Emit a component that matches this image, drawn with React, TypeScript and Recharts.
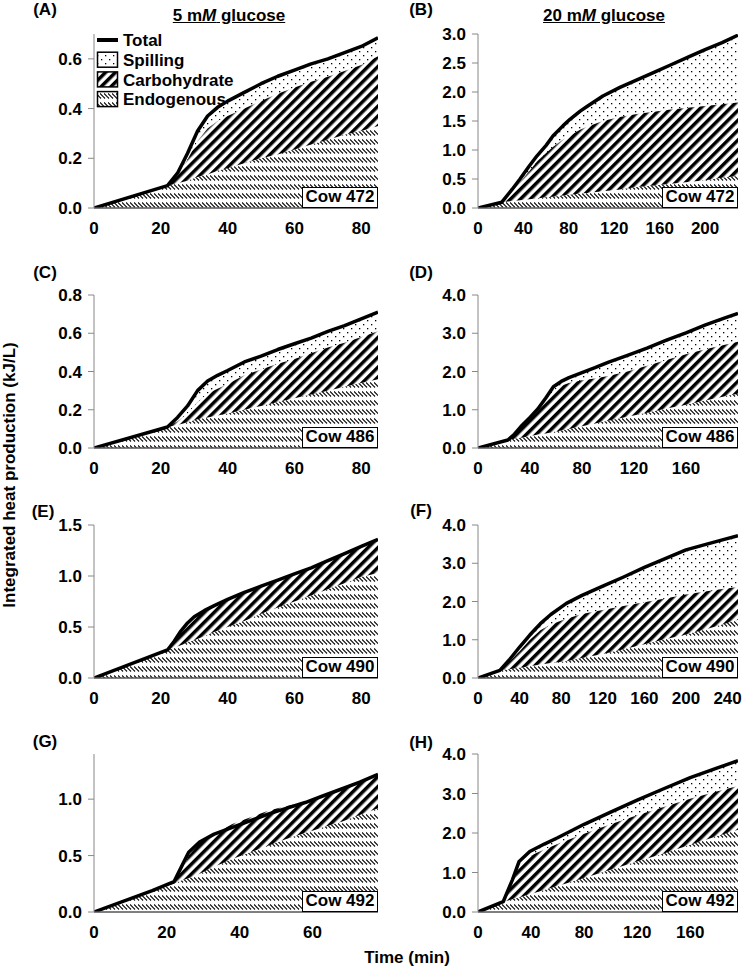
import React from 'react';
import { ComposedChart, Area, Line, XAxis, YAxis } from 'recharts';

const FONT = '"Liberation Sans", Arial, Helvetica, sans-serif';

// legend names (bottom of stack is Endogenous)
const seriesNames = ['Total', 'Spilling', 'Carbohydrate', 'Endogenous'];
const panelLetters = ['(A)', '(B)', '(C)', '(D)', '(E)', '(F)', '(G)', '(H)'];
const cowLabels = ['Cow 472', 'Cow 472', 'Cow 486', 'Cow 486', 'Cow 490', 'Cow 490', 'Cow 492', 'Cow 492'];

// (A) cow 472, 5 mM
const timeA = [0, 22, 25, 28, 31, 34, 37, 40, 45, 50, 55, 60, 65, 70, 75, 80, 85];
const totalA = [0, 0.09, 0.14, 0.22, 0.31, 0.37, 0.405, 0.43, 0.465, 0.5, 0.53, 0.555, 0.58, 0.6, 0.625, 0.65, 0.685];
const endoA = [0, 0.09, 0.1, 0.11, 0.125, 0.135, 0.15, 0.16, 0.18, 0.2, 0.215, 0.235, 0.255, 0.275, 0.295, 0.31, 0.33];
const carbA = [0, 0, 0.03, 0.085, 0.145, 0.185, 0.2, 0.21, 0.22, 0.23, 0.245, 0.25, 0.253, 0.253, 0.256, 0.265, 0.28];
const spillA = [0, 0, 0.01, 0.025, 0.04, 0.05, 0.055, 0.06, 0.065, 0.07, 0.07, 0.07, 0.072, 0.072, 0.074, 0.075, 0.075];

// (B) cow 472, 20 mM
const timeB = [0, 21, 30, 37, 45, 52, 60, 66, 75, 81, 90, 96, 110, 125, 140, 155, 170, 185, 200, 215, 229];
const totalB = [0, 0.1, 0.32, 0.5, 0.72, 0.9, 1.08, 1.24, 1.42, 1.53, 1.67, 1.75, 1.93, 2.08, 2.21, 2.34, 2.47, 2.6, 2.73, 2.85, 2.98];
const endoB = [0, 0.1, 0.12, 0.135, 0.15, 0.165, 0.185, 0.195, 0.215, 0.23, 0.25, 0.26, 0.29, 0.32, 0.36, 0.39, 0.42, 0.45, 0.48, 0.52, 0.55];
const carbB = [0, 0, 0.18, 0.315, 0.48, 0.635, 0.765, 0.855, 0.965, 1.02, 1.1, 1.14, 1.21, 1.25, 1.26, 1.27, 1.28, 1.28, 1.28, 1.27, 1.27];
const spillB = [0, 0, 0.02, 0.05, 0.09, 0.1, 0.13, 0.19, 0.24, 0.28, 0.32, 0.35, 0.43, 0.51, 0.59, 0.68, 0.77, 0.87, 0.97, 1.06, 1.16];

// (C) cow 486, 5 mM
const timeC = [0, 22, 25, 28, 31, 34, 37, 40, 45, 50, 55, 60, 65, 70, 75, 80, 85];
const totalC = [0, 0.11, 0.16, 0.22, 0.3, 0.35, 0.38, 0.405, 0.45, 0.48, 0.515, 0.545, 0.575, 0.61, 0.64, 0.675, 0.71];
const endoC = [0, 0.11, 0.12, 0.135, 0.15, 0.16, 0.17, 0.18, 0.2, 0.22, 0.24, 0.26, 0.28, 0.3, 0.32, 0.34, 0.36];
const carbC = [0, 0, 0.02, 0.045, 0.09, 0.125, 0.14, 0.155, 0.18, 0.19, 0.2, 0.205, 0.215, 0.225, 0.23, 0.24, 0.25];
const spillC = [0, 0, 0.02, 0.04, 0.06, 0.065, 0.07, 0.07, 0.07, 0.07, 0.075, 0.08, 0.08, 0.085, 0.09, 0.095, 0.1];

// (D) cow 486, 20 mM
const timeD = [0, 23, 28, 33, 40, 46, 52, 58, 64, 70, 80, 90, 100, 115, 130, 145, 160, 175, 190, 200];
const totalD = [0, 0.21, 0.36, 0.56, 0.8, 1.02, 1.3, 1.6, 1.74, 1.84, 1.97, 2.1, 2.24, 2.42, 2.61, 2.82, 3.01, 3.22, 3.4, 3.52];
const endoD = [0, 0.21, 0.24, 0.27, 0.31, 0.35, 0.38, 0.42, 0.46, 0.5, 0.57, 0.64, 0.71, 0.82, 0.92, 1.03, 1.13, 1.24, 1.35, 1.42];
const carbD = [0, 0, 0.09, 0.25, 0.45, 0.62, 0.86, 1.08, 1.17, 1.2, 1.2, 1.18, 1.17, 1.18, 1.23, 1.27, 1.32, 1.34, 1.35, 1.36];
const spillD = [0, 0, 0.03, 0.04, 0.04, 0.05, 0.06, 0.1, 0.11, 0.14, 0.2, 0.28, 0.36, 0.42, 0.46, 0.52, 0.56, 0.64, 0.7, 0.74];

// (E) cow 490, 5 mM
const timeE = [0, 22, 24, 26, 28, 30, 33, 36, 40, 45, 50, 55, 60, 65, 70, 75, 80, 85];
const totalE = [0, 0.275, 0.36, 0.46, 0.54, 0.6, 0.66, 0.71, 0.77, 0.84, 0.9, 0.96, 1.02, 1.08, 1.15, 1.22, 1.29, 1.36];
const endoE = [0, 0.275, 0.3, 0.32, 0.35, 0.37, 0.41, 0.45, 0.5, 0.56, 0.63, 0.69, 0.75, 0.81, 0.87, 0.93, 0.99, 1.03];
const carbE = [0, 0, 0.06, 0.13, 0.18, 0.22, 0.24, 0.25, 0.26, 0.27, 0.26, 0.26, 0.26, 0.26, 0.27, 0.28, 0.29, 0.32];
const spillE = [0, 0, 0, 0.01, 0.01, 0.01, 0.01, 0.01, 0.01, 0.01, 0.01, 0.01, 0.01, 0.01, 0.01, 0.01, 0.01, 0.01];

// (F) cow 490, 20 mM
const timeF = [0, 21, 30, 40, 50, 60, 70, 85, 100, 120, 140, 160, 180, 200, 220, 235, 250];
const totalF = [0, 0.2, 0.47, 0.81, 1.13, 1.42, 1.66, 1.95, 2.16, 2.4, 2.64, 2.89, 3.12, 3.35, 3.5, 3.61, 3.72];
const endoF = [0, 0.2, 0.23, 0.27, 0.31, 0.35, 0.39, 0.44, 0.52, 0.63, 0.75, 0.88, 1.01, 1.14, 1.28, 1.4, 1.52];
const carbF = [0, 0, 0.19, 0.43, 0.69, 0.9, 1.01, 1.11, 1.15, 1.15, 1.13, 1.1, 1.07, 1.04, 0.99, 0.93, 0.86];
const spillF = [0, 0, 0.05, 0.11, 0.13, 0.17, 0.26, 0.4, 0.49, 0.62, 0.76, 0.91, 1.04, 1.17, 1.23, 1.28, 1.34];

// (G) cow 492, 5 mM
const timeG = [0, 16, 22, 24, 26, 29, 33, 38, 43, 48, 53, 58, 63, 68, 73, 78];
const totalG = [0, 0.19, 0.27, 0.4, 0.53, 0.62, 0.69, 0.75, 0.81, 0.87, 0.92, 0.97, 1.03, 1.09, 1.15, 1.22];
const endoG = [0, 0.19, 0.25, 0.28, 0.3, 0.34, 0.4, 0.47, 0.53, 0.59, 0.65, 0.7, 0.75, 0.8, 0.86, 0.92];
const carbG = [0, 0, 0.02, 0.08, 0.2, 0.27, 0.29, 0.31, 0.31, 0.31, 0.29, 0.28, 0.28, 0.29, 0.29, 0.3];
const spillG = [0, 0, 0, 0, 0, 0, 0, 0, 0, 0, 0, 0, 0, 0, 0, 0];

// (H) cow 492, 20 mM
const timeH = [0, 19, 26, 31, 39, 50, 60, 80, 100, 120, 140, 160, 180, 196];
const totalH = [0, 0.26, 0.82, 1.28, 1.53, 1.72, 1.88, 2.22, 2.53, 2.83, 3.12, 3.4, 3.64, 3.83];
const endoH = [0, 0.26, 0.32, 0.37, 0.45, 0.56, 0.66, 0.86, 1.07, 1.28, 1.48, 1.7, 1.92, 2.08];
const carbH = [0, 0, 0.43, 0.81, 0.97, 1.02, 1.06, 1.12, 1.15, 1.17, 1.18, 1.17, 1.13, 1.11];
const spillH = [0, 0, 0.07, 0.1, 0.11, 0.14, 0.16, 0.24, 0.31, 0.38, 0.46, 0.53, 0.59, 0.64];

// axis ticks
const xTicks5 = [0, 20, 40, 60, 80];
const xTicksG = [0, 20, 40, 60];
const xTicksB = [0, 40, 80, 120, 160, 200];
const xTicksDH = [0, 40, 80, 120, 160];
const xTicksF = [0, 40, 80, 120, 160, 200, 240];
const yTicksA = [0, 0.2, 0.4, 0.6];
const yTicksB = [0, 0.5, 1, 1.5, 2, 2.5, 3];
const yTicksC = [0, 0.2, 0.4, 0.6, 0.8];
const yTicks4 = [0, 1, 2, 3, 4];
const yTicksE = [0, 0.5, 1, 1.5];
const yTicksG = [0, 0.5, 1];

type Row = { t: number; endo: number; carb: number; spill: number; total: number };

const rows = (t: number[], e: number[], c: number[], s: number[], tot: number[]): Row[] =>
  t.map((v, i) => ({ t: v, endo: e[i], carb: c[i], spill: s[i], total: tot[i] }));

const YW = 60;
const MT = 12;
const MR = 4;
const XH = 34;

const tickStyle = { fill: '#000', fontSize: 17, fontWeight: 700, fontFamily: FONT };

function Patterns({ id }: { id: string }) {
  return (
    <defs>
      <pattern id={`endo-${id}`} patternUnits="userSpaceOnUse" width={4} height={9}>
        <path d="M0,0.5 L5,5.5 M-4,0.5 L1,5.5" stroke="#000" strokeWidth={1.2} fill="none" />
      </pattern>
      <pattern id={`carb-${id}`} patternUnits="userSpaceOnUse" width={7} height={7} patternTransform="rotate(45)">
        <rect x={0} y={0} width={3.5} height={7} fill="#000" />
      </pattern>
      <pattern id={`spill-${id}`} patternUnits="userSpaceOnUse" width={8} height={8}>
        <rect x={1} y={1} width={1.3} height={1.3} fill="#000" />
        <rect x={5} y={5} width={1.3} height={1.3} fill="#000" />
      </pattern>
    </defs>
  );
}

type PanelProps = {
  id: string;
  data: Row[];
  left: number;
  top: number;
  width: number;
  height: number;
  xMax: number;
  xTicks: number[];
  yMax: number;
  yTicks: number[];
  cow: string;
};

function Panel(p: PanelProps) {
  const w = YW + p.width + MR;
  const h = MT + p.height + XH;
  return (
    <div style={{ position: 'absolute', left: p.left - YW, top: p.top - MT, width: w, height: h }}>
      <ComposedChart width={w} height={h} data={p.data} margin={{ top: MT, right: MR, bottom: 0, left: 0 }}>
        <Patterns id={p.id} />
        <XAxis
          type="number"
          dataKey="t"
          domain={[0, p.xMax]}
          ticks={p.xTicks}
          interval={0}
          allowDataOverflow
          height={XH}
          tickLine={false}
          tickSize={6}
          tickMargin={8}
          axisLine={{ stroke: '#555', strokeWidth: 1.5 }}
          tick={tickStyle}
        />
        <YAxis
          type="number"
          domain={[0, p.yMax]}
          ticks={p.yTicks}
          interval={0}
          allowDataOverflow
          width={YW}
          tickSize={6}
          tickMargin={6}
          tickFormatter={(v: number) => v.toFixed(1)}
          axisLine={{ stroke: '#888' }}
          tickLine={{ stroke: '#888' }}
          tick={tickStyle}
        />
        <Area type="linear" dataKey="endo" stackId="s" stroke="none" fill={`url(#endo-${p.id})`} fillOpacity={1} isAnimationActive={false} />
        <Area type="linear" dataKey="carb" stackId="s" stroke="none" fill={`url(#carb-${p.id})`} fillOpacity={1} isAnimationActive={false} />
        <Area type="linear" dataKey="spill" stackId="s" stroke="none" fill={`url(#spill-${p.id})`} fillOpacity={1} isAnimationActive={false} />
        <Line type="linear" dataKey="total" stroke="#000" strokeWidth={3.5} strokeLinejoin="round" dot={false} activeDot={false} isAnimationActive={false} />
      </ComposedChart>
      <div
        style={{
          position: 'absolute',
          left: YW + p.width - 76,
          top: MT + p.height - 21,
          width: 76,
          height: 21,
          boxSizing: 'border-box',
          border: '1.5px solid #000',
          background: '#fff',
          fontFamily: FONT,
          fontWeight: 700,
          fontSize: 17,
          lineHeight: '18px',
          textAlign: 'center',
        }}
      >
        {p.cow}
      </div>
    </div>
  );
}

function Txt({ x, y, children, rotate }: { x: number; y: number; children: React.ReactNode; rotate?: boolean }) {
  return (
    <div
      style={{
        position: 'absolute',
        left: x,
        top: y,
        transform: `translate(-50%, -50%)${rotate ? ' rotate(-90deg)' : ''}`,
        whiteSpace: 'nowrap',
        fontFamily: FONT,
        fontWeight: 700,
        fontSize: 17,
        lineHeight: '20px',
      }}
    >
      {children}
    </div>
  );
}

function LegendBox() {
  const rowY = (i: number) => 10 + i * 19.7;
  const fills = ['', 'url(#spill-lg)', 'url(#carb-lg)', 'url(#endo-lg)'];
  return (
    <svg width={160} height={82} style={{ position: 'absolute', left: 96, top: 30 }}>
      <Patterns id="lg" />
      {seriesNames.map((name, i) => (
        <g key={name}>
          {i === 0 ? (
            <line x1={1} x2={22} y1={rowY(i)} y2={rowY(i)} stroke="#000" strokeWidth={4} />
          ) : (
            <rect x={1.5} y={rowY(i) - 7.5} width={20} height={15} fill={fills[i]} stroke="#000" strokeWidth={1.5} />
          )}
          <text x={27} y={rowY(i)} dy="0.36em" fontFamily={FONT} fontWeight={700} fontSize={17} fill="#000">
            {name}
          </text>
        </g>
      ))}
    </svg>
  );
}

const LEFT_X = 94;
const LEFT_W = 284;
const RIGHT_X = 478;
const RIGHT_W = 260;
const rowTop = [34, 295, 525, 754];
const rowBottom = [208, 448, 678, 912];

export default function App() {
  const panels: PanelProps[] = [
    { id: 'a', data: rows(timeA, endoA, carbA, spillA, totalA), left: LEFT_X, top: rowTop[0], width: LEFT_W, height: rowBottom[0] - rowTop[0], xMax: 85, xTicks: xTicks5, yMax: 0.7, yTicks: yTicksA, cow: cowLabels[0] },
    { id: 'b', data: rows(timeB, endoB, carbB, spillB, totalB), left: RIGHT_X, top: rowTop[0], width: RIGHT_W, height: rowBottom[0] - rowTop[0], xMax: 229, xTicks: xTicksB, yMax: 3, yTicks: yTicksB, cow: cowLabels[1] },
    { id: 'c', data: rows(timeC, endoC, carbC, spillC, totalC), left: LEFT_X, top: rowTop[1], width: LEFT_W, height: rowBottom[1] - rowTop[1], xMax: 85, xTicks: xTicks5, yMax: 0.8, yTicks: yTicksC, cow: cowLabels[2] },
    { id: 'd', data: rows(timeD, endoD, carbD, spillD, totalD), left: RIGHT_X, top: rowTop[1], width: RIGHT_W, height: rowBottom[1] - rowTop[1], xMax: 200, xTicks: xTicksDH, yMax: 4, yTicks: yTicks4, cow: cowLabels[3] },
    { id: 'e', data: rows(timeE, endoE, carbE, spillE, totalE), left: LEFT_X, top: rowTop[2], width: LEFT_W, height: rowBottom[2] - rowTop[2], xMax: 85, xTicks: xTicks5, yMax: 1.5, yTicks: yTicksE, cow: cowLabels[4] },
    { id: 'f', data: rows(timeF, endoF, carbF, spillF, totalF), left: RIGHT_X, top: rowTop[2], width: RIGHT_W, height: rowBottom[2] - rowTop[2], xMax: 250, xTicks: xTicksF, yMax: 4, yTicks: yTicks4, cow: cowLabels[5] },
    { id: 'g', data: rows(timeG, endoG, carbG, spillG, totalG), left: LEFT_X, top: rowTop[3], width: LEFT_W, height: rowBottom[3] - rowTop[3], xMax: 78, xTicks: xTicksG, yMax: 1.4, yTicks: yTicksG, cow: cowLabels[6] },
    { id: 'h', data: rows(timeH, endoH, carbH, spillH, totalH), left: RIGHT_X, top: rowTop[3], width: RIGHT_W, height: rowBottom[3] - rowTop[3], xMax: 196, xTicks: xTicksDH, yMax: 4, yTicks: yTicks4, cow: cowLabels[7] },
  ];
  const letterPos = [
    [45, 10], [421, 10], [45, 273], [421, 273], [43, 512], [421, 511], [45, 742], [421, 743],
  ];

  return (
    <div style={{ position: 'absolute', left: 0, top: 0, width: 742, height: 968, overflow: 'hidden', background: '#fff', color: '#000' }}>
      {panels.map((p) => (
        <Panel key={p.id} {...p} />
      ))}
      {panelLetters.map((l, i) => (
        <Txt key={l} x={letterPos[i][0]} y={letterPos[i][1]}>
          {l}
        </Txt>
      ))}
      <Txt x={229} y={16}>
        <span style={{ textDecoration: 'underline' }}>
          5 m<i>M</i> glucose
        </span>
      </Txt>
      <Txt x={604} y={16}>
        <span style={{ textDecoration: 'underline' }}>
          20 m<i>M</i> glucose
        </span>
      </Txt>
      <LegendBox />
      <Txt x={10} y={475} rotate>
        Integrated heat production (kJ/L)
      </Txt>
      <Txt x={407} y={958}>
        Time (min)
      </Txt>
    </div>
  );
}
